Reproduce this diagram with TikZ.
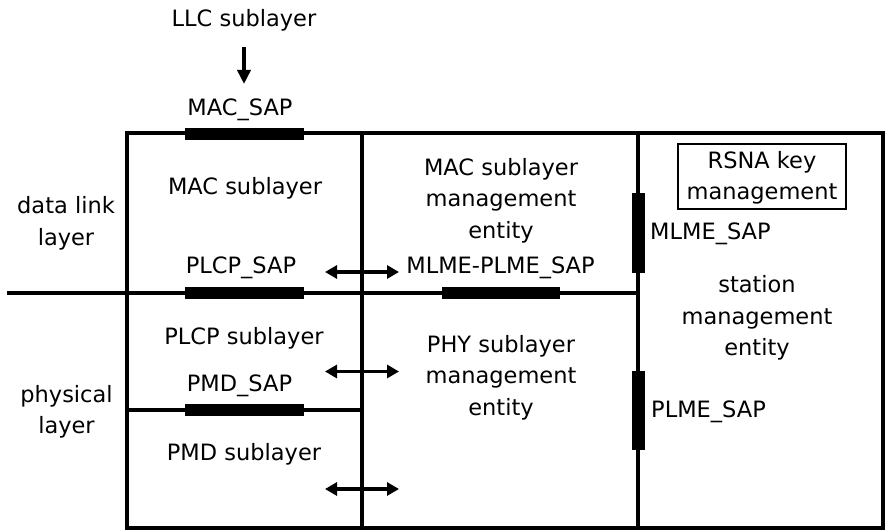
\documentclass[tikz,border=0pt]{standalone}
\usepackage{fontspec}
\setmainfont{DejaVu Sans}
\usetikzlibrary{arrows.meta}
\begin{document}
\begin{tikzpicture}[x=1pt,y=-1pt,
  lbl/.style={font=\fontsize{22.5}{31.5}\selectfont, inner sep=0pt, anchor=base},
  lblw/.style={lbl, anchor=base west},
  frame/.style={line width=3.5pt},
  sapbar/.style={line width=12pt},
  vbar/.style={line width=13pt},
  tip/.style={line width=3.5pt, -{Triangle[length=14pt,width=13pt]}},
  dblarrow/.style={line width=3.5pt, {Triangle[length=12pt,width=13pt]}-{Triangle[length=12pt,width=13pt]}},
  keybox/.style={draw, line width=1.3pt}
]
\useasboundingbox (0,0) rectangle (885,532);

% frame
\draw[frame] (127,133) rectangle (883,528);
\draw[frame] (362,133) -- (362,528);
\draw[frame] (638,133) -- (638,528);
\draw[frame] (7,293) -- (638,293);
\draw[frame] (127,410) -- (362,410);

% service access points
\draw[sapbar] (185,134) -- (304,134);
\draw[sapbar] (185,293) -- (304,293);
\draw[sapbar] (185,410) -- (304,410);
\draw[sapbar] (442,293) -- (560,293);
\draw[vbar] (638,193) -- (638,273);
\draw[vbar] (638,371) -- (638,450);

% RSNA box
\draw[keybox] (678,144) rectangle (846,209);

% texts
\node[lbl] (llc) at (244,27) {LLC sublayer};
\node[lbl] (macsap) at (240,115) {MAC\_SAP};
\node[lbl] (macsub) at (245,194) {MAC sublayer};
\node[lbl] (dl1) at (66,213) {data link};
\node[lbl] (dl2) at (66,245) {layer};
\node[lbl] (plcpsap) at (241,273) {PLCP\_SAP};
\node[lbl] (mlmeplme) at (500.5,273) {MLME-PLME\_SAP};
\node[lbl] (mm1) at (501,175) {MAC sublayer};
\node[lbl] (mm2) at (501,206.5) {management};
\node[lbl] (mm3) at (501,238) {entity};
\node[lbl] (plcpsub) at (244,344) {PLCP sublayer};
\node[lbl] (pmdsap) at (239.5,391) {PMD\_SAP};
\node[lbl] (ph1) at (66.5,402) {physical};
\node[lbl] (ph2) at (66.5,433) {layer};
\node[lbl] (pmdsub) at (244,460) {PMD sublayer};
\node[lbl] (pm1) at (501,352) {PHY sublayer};
\node[lbl] (pm2) at (501,383.5) {management};
\node[lbl] (pm3) at (501,415) {entity};
\node[lblw] (mlmesap) at (650,239) {MLME\_SAP};
\node[lblw] (plmesap) at (651,417) {PLME\_SAP};
\node[lbl] (st1) at (757,292.7) {station};
\node[lbl] (st2) at (757,324) {management};
\node[lbl] (st3) at (757,355.5) {entity};
\node[lbl] (rs1) at (762,168) {RSNA key};
\node[lbl] (rs2) at (762,199) {management};

% arrows
\coordinate (llcA) at (244,47);
\coordinate (llcB) at (244,84);
\draw[tip] (llcA) -- (llcB);
\coordinate (a1L) at (325,272);
\coordinate (a1R) at (399,272);
\coordinate (a2L) at (325,371.5);
\coordinate (a2R) at (399,371.5);
\coordinate (a3L) at (325,489);
\coordinate (a3R) at (399,489);
\draw[dblarrow] (a1L) -- (a1R);
\draw[dblarrow] (a2L) -- (a2R);
\draw[dblarrow] (a3L) -- (a3R);
\end{tikzpicture}
\end{document}
